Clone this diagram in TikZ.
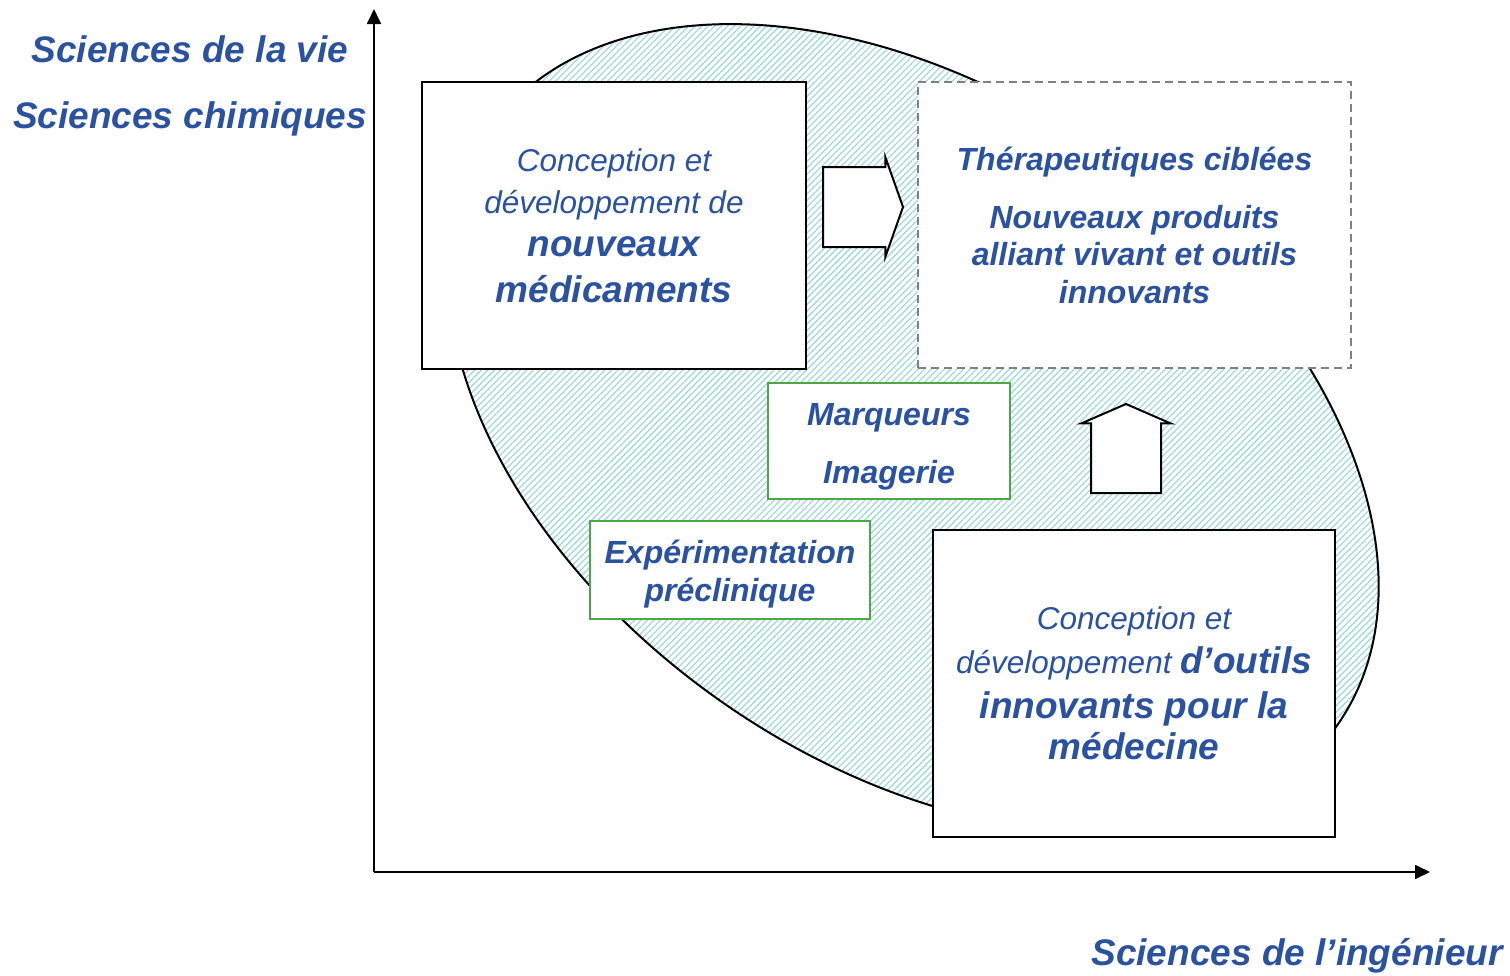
\documentclass[tikz,border=0pt]{standalone}
\usepackage{fontspec}
\setmainfont{Liberation Sans}
\usetikzlibrary{arrows.meta,patterns.meta,shapes.arrows}

\definecolor{txtblue}{RGB}{42,82,160}
\definecolor{boxgreen}{RGB}{76,168,70}
\definecolor{hatch}{RGB}{162,217,219}
\definecolor{dashgray}{RGB}{128,128,128}

\newcommand{\regtxt}{\fontsize{31.5}{36}\selectfont\itshape}
\newcommand{\boldtxt}{\fontsize{37}{40}\selectfont\bfseries\itshape}
\newcommand{\midtxt}{\fontsize{32}{37}\selectfont\bfseries\itshape}

\tikzset{
	bigbox/.style={draw, line width=2pt, fill=white, text=txtblue, align=center, inner sep=0pt, font=\regtxt},
	dashbox/.style={draw=dashgray, line width=2pt, dash pattern=on 8pt off 5pt, fill=white, text=txtblue, align=center, inner sep=0pt, font=\midtxt},
	greenbox/.style={draw=boxgreen, line width=2pt, fill=white, text=txtblue, align=center, inner sep=0pt, font=\midtxt},
	axislabel/.style={text=txtblue, align=center, inner sep=0pt, font=\boldtxt},
	blockarrow/.style={single arrow, draw, line width=2pt, fill=white, inner xsep=0pt, anchor=tail},
	axis/.style={line width=1.8pt, -{Triangle[length=15pt,width=14pt]}}
}

\begin{document}
\begin{tikzpicture}[x=1pt, y=-1pt]
				\useasboundingbox (0,0) rectangle (1510,975);
				% hatched zone
				\draw[line width=2pt, pattern={Lines[angle=45,distance=4.6pt,line width=1.3pt]}, pattern color=hatch, rotate around={-35:(913,428)}] (913,428) ellipse [x radius=518, y radius=334];
				% axes
				\coordinate (O) at (374,872);
				\coordinate (YT) at (374,9);
				\coordinate (XT) at (1430,872);
				\draw[axis] (O) -- (YT);
				\draw[axis] (O) -- (XT);
				\node[axislabel] (LV) at (190,85.5) {Sciences de la vie\\[26pt] Sciences chimiques};
				\node[axislabel, anchor=base] (LI) at (1297,965) {Sciences de l’ingénieur};
				% boxes
				\node[bigbox, minimum width=384, minimum height=287] (MED) at (614,225.5) {Conception et\\[6pt] développement de\\[7pt] {\boldtxt nouveaux}\\[10pt] {\boldtxt médicaments}};
				\node[dashbox, minimum width=433, minimum height=286] (THER) at (1134.5,225) {Thérapeutiques ciblées\\[21pt] Nouveaux produits\\ alliant vivant et outils\\[1pt] innovants};
				\node[bigbox, minimum width=402, minimum height=307] (OUT) at (1134,683.5) {Conception et\\[8pt] développement {\boldtxt d’outils}\\[9pt] {\boldtxt innovants pour la}\\[5pt] {\boldtxt médecine}};
				\node[greenbox, minimum width=242, minimum height=116] (MARK) at (889,441) {\rule{0pt}{33pt}Marqueurs\\[21pt] Imagerie};
				\node[greenbox, minimum width=280, minimum height=98] (EXP) at (730,570) {\rule{0pt}{32pt}Expérimentation\\[1pt] préclinique};
				% block arrows
				\node[blockarrow, inner ysep=39pt, single arrow head extend=10pt, single arrow tip angle=141, minimum height=80] (AR) at (822,207) {};
				\node[blockarrow, rotate=90, inner ysep=34pt, single arrow head extend=9.5pt, single arrow tip angle=133, minimum height=89] (AU) at (1126,494) {};
			\end{tikzpicture}
\end{document}
